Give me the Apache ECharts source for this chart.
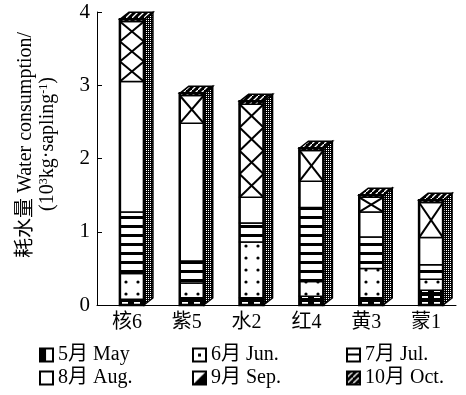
<!DOCTYPE html>
<html><head><meta charset="utf-8">
<script src="https://cdn.jsdelivr.net/npm/echarts/dist/echarts.min.js"></script>
<style>html,body{margin:0;padding:0;background:#fff}#c{width:466px;height:395px}</style>
</head><body><div id="c"></div>
<script>
const categories = ['核6','紫5','水2','红4','黄3','蒙1'];
const monthNames = ['5月 May','6月 Jun.','7月 Jul.','8月 Aug.','9月 Sep.','10月 Oct.'];
const may = [0.08,0.10,0.10,0.12,0.10,0.20];
const jun = [0.35,0.20,0.76,0.20,0.40,0.15];
const jul = [0.84,0.30,0.26,1.01,0.43,0.20];
const aug = [1.78,1.88,0.35,0.36,0.34,0.37];
const sep = [0.82,0.38,1.27,0.42,0.20,0.48];
const oct = [0.03,0.03,0.04,0.03,0.03,0.03];
const yTicks = [0,1,2,3,4];

const FONT = '"Liberation Serif","Noto Sans CJK SC",serif';
function pat(w,h,draw){const c=document.createElement('canvas');c.width=w;c.height=h;const g=c.getContext('2d');draw(g,w,h);return {image:c,repeat:'repeat'};}
const mayFill = pat(12,6,(g)=>{g.fillStyle='#000';g.fillRect(0,0,12,6);g.fillStyle='#fff';g.fillRect(2,2,6,2);});
const junFill = pat(12,12,(g)=>{g.fillStyle='#fff';g.fillRect(0,0,12,12);g.fillStyle='#000';g.beginPath();g.arc(6,6,1.6,0,Math.PI*2);g.fill();});
const julFill = pat(4,9,(g)=>{g.fillStyle='#fff';g.fillRect(0,0,4,9);g.fillStyle='#000';g.fillRect(0,0,4,3);});
const octFill = pat(6,6,(g)=>{g.fillStyle='#000';g.fillRect(0,0,6,6);g.strokeStyle='#fff';g.lineWidth=1.3;g.beginPath();g.moveTo(0,6);g.lineTo(6,0);g.stroke();});
const sideFill = pat(2,2,(g)=>{g.fillStyle='#000';g.fillRect(0,0,2,2);g.fillStyle='#fff';g.fillRect(0,0,1,1);});
const sepIcon = pat(13,13,(g)=>{g.fillStyle='#fff';g.fillRect(0,0,13,13);g.fillStyle='#000';g.beginPath();g.moveTo(13,0);g.lineTo(13,13);g.lineTo(0,13);g.closePath();g.fill();});
const mayIcon = pat(13,13,(g)=>{g.fillStyle='#fff';g.fillRect(0,0,13,13);g.fillStyle='#000';g.fillRect(0,0,6,13);});
const junIcon = pat(13,13,(g)=>{g.fillStyle='#fff';g.fillRect(0,0,13,13);g.fillStyle='#000';g.fillRect(5,5,3,3);});
const julIcon = pat(13,13,(g)=>{g.fillStyle='#fff';g.fillRect(0,0,13,13);g.fillStyle='#000';g.fillRect(0,5,13,2);});

const segData = [may,jun,jul,aug,sep,oct];
const segFills = [mayFill,junFill,julFill,'#fff','#fff',octFill];
const legendFills = [mayIcon,junIcon,julIcon,'#fff',sepIcon,octFill];

const chart = echarts.init(document.getElementById('c'));
const series = monthNames.map((n,k)=>({type:'bar',name:n,data:[],itemStyle:{color:legendFills[k],borderColor:'#000',borderWidth:2}}));
series.push({
  type:'custom',
  data: categories.map((c,i)=>[i]),
  encode:{x:0},
  renderItem(params, api){
    const i = api.value(0);
    const base = api.coord([i,0]);
    const xc = base[0];
    const w = 24, dx = 9, dy = 7;
    const x0 = xc - 7;
    const children = [];
    let cum = 0, yPrev = base[1];
    for (let k=0;k<6;k++){
      cum += segData[k][i];
      const y = api.coord([i,cum])[1];
      children.push({type:'rect',shape:{x:x0,y:y,width:w,height:yPrev-y},style:{fill:segFills[k],stroke:'#000',lineWidth:1.5}});
      if (k===4){
        const h = yPrev - y;
        const n = Math.max(1, Math.round(h/w));
        const sh = h/n;
        for (let j=0;j<n;j++){
          const ya = y + j*sh, yb = y + (j+1)*sh;
          children.push({type:'line',shape:{x1:x0,y1:ya,x2:x0+w,y2:yb},style:{stroke:'#000',lineWidth:2}});
          children.push({type:'line',shape:{x1:x0+w,y1:ya,x2:x0,y2:yb},style:{stroke:'#000',lineWidth:2}});
        }
      }
      yPrev = y;
    }
    const yTop = yPrev;
    children.push({type:'polygon',shape:{points:[[x0+w,yTop],[x0+w+dx,yTop-dy],[x0+w+dx,base[1]-dy],[x0+w,base[1]]]},style:{fill:sideFill,stroke:'#000',lineWidth:1.5}});
    children.push({type:'polygon',shape:{points:[[x0,yTop],[x0+dx,yTop-dy],[x0+w+dx,yTop-dy],[x0+w,yTop]]},style:{fill:octFill,stroke:'#000',lineWidth:1.5}});
    children.push({type:'rect',shape:{x:x0,y:yTop,width:w,height:base[1]-yTop},style:{fill:'none',stroke:'#000',lineWidth:2.5}});
    return {type:'group',children};
  }
});

const legendCommon = {orient:'vertical',itemWidth:13,itemHeight:13,itemGap:3,padding:0,icon:'rect',
  textStyle:{fontSize:20,fontFamily:FONT,color:'#000'},itemStyle:{borderColor:'#000',borderWidth:2}};
chart.setOption({
  animation:false,
  backgroundColor:'#fff',
  grid:{left:97,right:10,top:12,bottom:90},
  xAxis:{type:'category',data:categories,
    axisLine:{lineStyle:{color:'#000',width:1}},
    axisTick:{inside:true,length:5,lineStyle:{color:'#000'}},
    axisLabel:{fontSize:20,fontFamily:FONT,color:'#000',margin:8}},
  yAxis:{type:'value',min:yTicks[0],max:yTicks[yTicks.length-1],interval:1,
    axisLine:{show:true,lineStyle:{color:'#000',width:1}},
    axisTick:{show:true,inside:true,length:5,lineStyle:{color:'#000'}},
    splitLine:{show:false},
    axisLabel:{fontSize:21,fontFamily:FONT,color:'#000',margin:7}},
  legend:[
    Object.assign({data:[monthNames[0],monthNames[3]],left:39,top:345},legendCommon),
    Object.assign({data:[monthNames[1],monthNames[4]],left:192,top:345},legendCommon),
    Object.assign({data:[monthNames[2],monthNames[5]],left:346,top:345},legendCommon)
  ],
  graphic:[
    {type:'text',x:26,y:145,rotation:Math.PI/2,style:{text:'耗水量 Water consumption/',font:'20px '+FONT,textAlign:'center',textVerticalAlign:'middle',fill:'#000'}},
    {type:'text',x:48,y:144,rotation:Math.PI/2,style:{text:'(10{s|3}kg·sapling{s|-1})',font:'20px '+FONT,textAlign:'center',textVerticalAlign:'middle',fill:'#000',
      rich:{s:{fontSize:12,fontFamily:FONT,fill:'#000',padding:[0,0,9,0]}}}}
  ],
  series
});
</script></body></html>
